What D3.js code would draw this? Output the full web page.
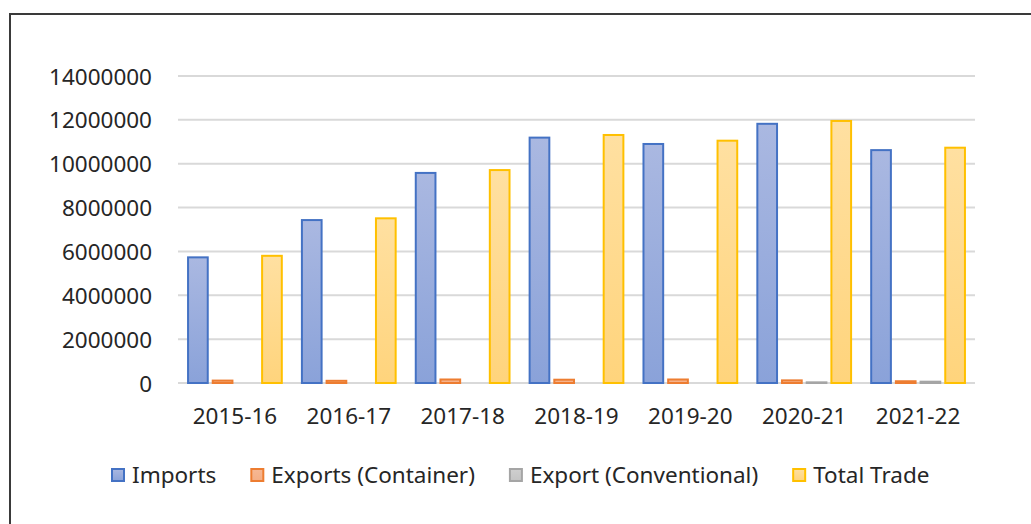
<!DOCTYPE html>
<html>
<head>
<meta charset="utf-8">
<script src="https://cdn.jsdelivr.net/npm/d3@7"></script>
<style>
  body { margin: 0; background: #fff; }
  svg { display: block; font-family: "Noto Sans", sans-serif; }
</style>
</head>
<body>
<div id="chart"></div>
<script>
// chart data
const CATEGORIES = ["2015-16", "2016-17", "2017-18", "2018-19", "2019-20", "2020-21", "2021-22"];
const SERIES = ["Imports", "Exports (Container)", "Export (Conventional)", "Total Trade"];
const IMPORTS = [5730000, 7430000, 9580000, 11190000, 10900000, 11820000, 10620000];
const EXPORTS_CONTAINER = [110000, 100000, 160000, 150000, 160000, 120000, 80000];
const EXPORTS_CONVENTIONAL = [0, 0, 0, 0, 0, 30000, 60000];
const TOTAL_TRADE = [5800000, 7510000, 9710000, 11310000, 11050000, 11950000, 10730000];
const Y_TICKS = [0, 2000000, 4000000, 6000000, 8000000, 10000000, 12000000, 14000000];

const FRAME_WIDTH = 1031;
const FRAME_HEIGHT = 524;
const PLOT = {left: 178, right: 975, top: 76, bottom: 383};

// fill (top, bottom) and outline for each series
const COLORS = [
  {top: "#aab8e1", bottom: "#8aa2d9", stroke: "#4472c4"},
  {top: "#f6b894", bottom: "#f4ae85", stroke: "#ed7d31"},
  {top: "#cfcfcf", bottom: "#c4c4c4", stroke: "#a5a5a5"},
  {top: "#ffe0a1", bottom: "#ffd47c", stroke: "#ffc000"}
];

const values = [IMPORTS, EXPORTS_CONTAINER, EXPORTS_CONVENTIONAL, TOTAL_TRADE];

const svg = d3.select("#chart")
  .append("svg")
    .attr("width", FRAME_WIDTH)
    .attr("height", FRAME_HEIGHT);

// gradients
const defs = svg.append("defs");
COLORS.forEach((c, i) => {
  const g = defs.append("linearGradient")
      .attr("id", "grad" + i)
      .attr("x1", 0).attr("y1", 0).attr("x2", 0).attr("y2", 1);
  g.append("stop").attr("offset", "0%").attr("stop-color", c.top);
  g.append("stop").attr("offset", "100%").attr("stop-color", c.bottom);
});

// outer chart border (only left and top show inside the picture)
svg.append("rect")
  .attr("x", 10).attr("y", 14)
  .attr("width", 1100).attr("height", 600)
  .attr("fill", "none")
  .attr("stroke", "#3a3a3a")
  .attr("stroke-width", 2);

const x0 = d3.scaleBand()
  .domain(CATEGORIES)
  .range([PLOT.left, PLOT.right])
  .paddingInner(0.159)
  .paddingOuter(0.0795);

const x1 = d3.scaleBand()
  .domain(d3.range(SERIES.length))
  .range([0, x0.bandwidth()])
  .paddingInner(0.121);

const y = d3.scaleLinear()
  .domain([0, 14000000])
  .range([PLOT.bottom, PLOT.top]);

// gridlines
svg.append("g")
  .selectAll("line")
  .data(Y_TICKS)
  .join("line")
    .attr("x1", PLOT.left)
    .attr("x2", PLOT.right)
    .attr("y1", d => y(d))
    .attr("y2", d => y(d))
    .attr("stroke", "#d9d9d9")
    .attr("stroke-width", 2);

// y axis labels
const yAxis = svg.append("g")
  .attr("transform", "translate(152,0)")
  .call(d3.axisLeft(y).tickValues(Y_TICKS).tickSize(0).tickPadding(0).tickFormat(d3.format("d")));
yAxis.select(".domain").remove();
yAxis.selectAll("text")
  .attr("fill", "#262626")
  .style("font-size", "22.5px")
  .style("font-family", "Noto Sans")
  .attr("dy", "0.36em");

// x axis labels
const xAxis = svg.append("g")
  .attr("transform", "translate(0," + PLOT.bottom + ")")
  .call(d3.axisBottom(x0).tickSize(0).tickPadding(0));
xAxis.select(".domain").remove();
xAxis.selectAll("text")
  .attr("fill", "#262626")
  .style("font-size", "22.5px")
  .style("font-family", "Noto Sans")
  .attr("y", 41)
  .attr("dy", 0);

// bars
const groups = svg.append("g")
  .selectAll("g")
  .data(CATEGORIES)
  .join("g")
    .attr("transform", d => "translate(" + x0(d) + ",0)");

groups.selectAll("rect")
  .data((d, ci) => values.map((v, si) => ({si: si, value: v[ci]})).filter(e => e.value > 0))
  .join("rect")
    .attr("x", d => x1(d.si) + 1)
    .attr("y", d => y(d.value))
    .attr("width", x1.bandwidth() - 2)
    .attr("height", d => y(0) - y(d.value))
    .attr("fill", d => "url(#grad" + d.si + ")")
    .attr("stroke", d => COLORS[d.si].stroke)
    .attr("stroke-width", 2);

// legend
const legend = svg.append("g").attr("transform", "translate(111,0)");
let lx = 0;
SERIES.forEach((name, i) => {
  const item = legend.append("g").attr("transform", "translate(" + lx + ",0)");
  item.append("rect")
    .attr("x", 1).attr("y", 469)
    .attr("width", 12).attr("height", 12)
    .attr("fill", "url(#grad" + i + ")")
    .attr("stroke", COLORS[i].stroke)
    .attr("stroke-width", 2);
  const t = item.append("text")
    .attr("x", 21)
    .attr("y", 483)
    .attr("fill", "#262626")
    .style("font-size", "22.5px")
    .text(name);
  lx += 21 + t.node().getComputedTextLength() + 34;
});
</script>
</body>
</html>
